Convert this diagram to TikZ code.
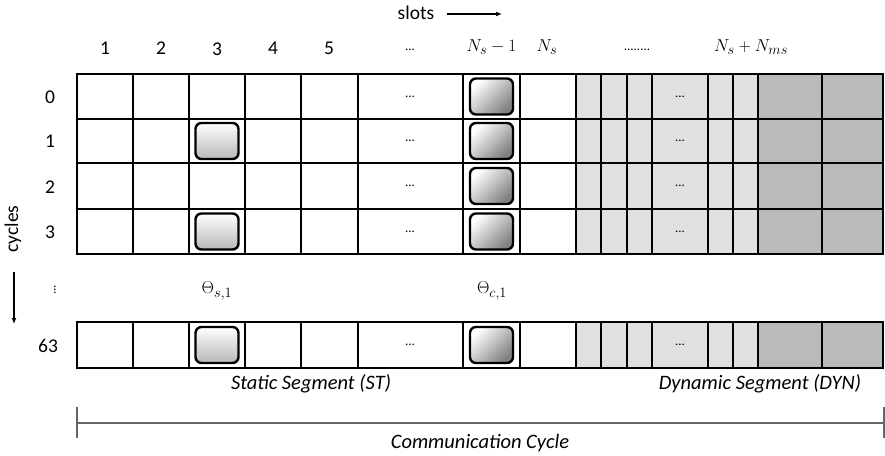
\documentclass[tikz,border=0pt]{standalone}
\usepackage{fontspec}
\setmainfont{Carlito}
\usetikzlibrary{arrows.meta}
\tikzset{
  grid/.style={line width=2.4pt, draw=black},
  lbl/.style={font=\fontsize{19.5}{22}\selectfont, inner sep=0pt},
  mlbl/.style={font=\fontsize{19}{21}\selectfont, inner sep=0pt},
  seg/.style={font=\fontsize{20.5}{23}\selectfont\itshape, inner sep=0pt},
  dots/.style={font=\fontsize{13}{15}\selectfont, inner sep=0pt},
  framea/.style={draw=black, line width=2.4pt, rounded corners=6pt, minimum width=43pt, minimum height=36pt, inner sep=0pt,
     top color=white, bottom color=black!28},
  frameb/.style={draw=black, line width=2.4pt, rounded corners=6pt, minimum width=43pt, minimum height=36pt, inner sep=0pt,
     top color=white, middle color=black!2, bottom color=black!50, shading angle=45},
  axisarrow/.style={line width=1.6pt, -{Latex[length=6pt,width=5pt]}},
  commline/.style={draw=black!60, line width=1.6pt}
}
\begin{document}
\begin{tikzpicture}[x=1pt,y=-1pt]
\useasboundingbox (0,0) rectangle (885,455);
% fills
\foreach \ya/\yb in {74/119,119/163,163/209,209/254,322/368}{
  \fill[black!12] (576,\ya) rectangle (758,\yb);
  \fill[black!27] (758,\ya) rectangle (883,\yb);
}
% grid lines
\foreach \ya/\yb in {74/254,322/368}{
  \foreach \x in {77,133,189,245,301,358,463,520,576,601,627,652,708,733,758,822,883}{
    \draw[grid] (\x,\ya) -- (\x,\yb);
  }
}
\foreach \y in {74,119,163,209,254,322,368}{
  \draw[grid] (76,\y) -- (884,\y);
}
% dots in cells
\foreach \y [count=\i] in {96.5,141,186,231.5,345}{
  \node[dots] (da\i) at (410,\y) {...};
  \node[dots] (db\i) at (680,\y) {...};
}
% rounded frames
\node[framea] (fs1) at (217,141) {};
\node[framea] (fs3) at (217,231.5) {};
\node[framea] (fs63) at (217,345) {};
\node[frameb] (fc0) at (491.5,96.5) {};
\node[frameb] (fc1) at (491.5,141) {};
\node[frameb] (fc2) at (491.5,186) {};
\node[frameb] (fc3) at (491.5,231.5) {};
\node[frameb] (fc63) at (491.5,345) {};
% column labels
\node[lbl] (c1) at (105,48) {1};
\node[lbl] (c2) at (161,48) {2};
\node[lbl] (c3) at (217,49) {3};
\node[lbl] (c4) at (273,48) {4};
\node[lbl] (c5) at (329,48) {5};
\node[dots] (cdots) at (410,50) {...};
\node[mlbl] (cns1) at (491.5,47) {$N_s-1$};
\node[mlbl] (cns) at (547,47) {$N_s$};
\node[dots] (cdd) at (637,50) {........};
\node[mlbl] (cnsms) at (751,47) {$N_s+N_{ms}$};
% slots
\node[lbl] (slots) at (416,13) {slots};
\coordinate (sa) at (447,14);
\coordinate (sb) at (502,14);
\draw[axisarrow] (sa) -- (sb);
% row labels
\node[lbl] (r0) at (50,97) {0};
\node[lbl] (r1) at (50,141) {1};
\node[lbl] (r2) at (50,187) {2};
\node[lbl] (r3) at (50,232) {3};
\node[dots, rotate=90] (rd) at (55,290) {...};
\node[lbl] (r63) at (48,346) {63};
% cycles
\node[lbl, rotate=90] (cycles) at (13,229) {cycles};
\coordinate (ca) at (14,272);
\coordinate (cb) at (14,324);
\draw[axisarrow] (ca) -- (cb);
% thetas
\node[mlbl] (ths) at (217,291) {$\Theta_{s,1}$};
\node[mlbl] (thc) at (492,291) {$\Theta_{c,1}$};
% segments
\node[seg] (st) at (311,384) {Static Segment (ST)};
\node[seg] (dyn) at (760,384) {Dynamic Segment (DYN)};
% communication cycle
\coordinate (l1) at (77,407);
\coordinate (l2) at (77,438);
\coordinate (r1a) at (884,407);
\coordinate (r2a) at (884,438);
\coordinate (ml) at (77,423);
\coordinate (mr) at (884,423);
\draw[commline] (l1) -- (l2);
\draw[commline] (r1a) -- (r2a);
\draw[commline] (ml) -- (mr);
\node[seg] (cc) at (480,443) {Communication Cycle};
\end{tikzpicture}
\end{document}
